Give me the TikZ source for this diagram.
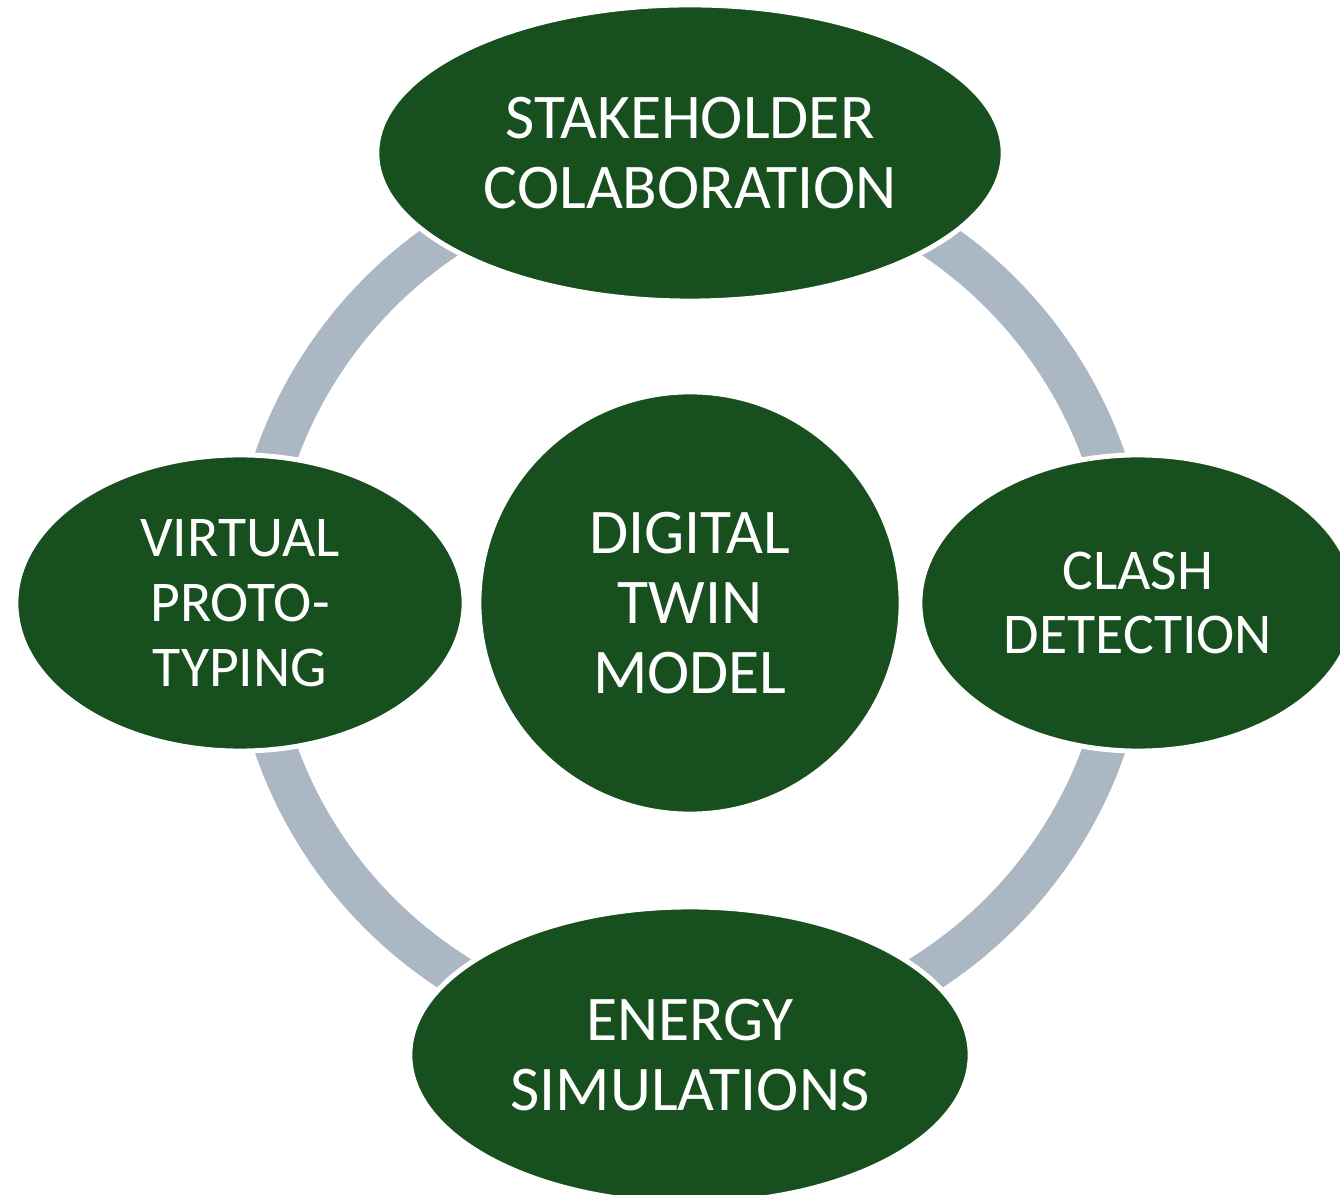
\documentclass[tikz,border=0pt]{standalone}
\usepackage{fontspec}
\setmainfont{Carlito}
\usetikzlibrary{shapes.geometric}
\definecolor{twingreen}{RGB}{23,80,30}
\definecolor{ringgray}{RGB}{172,183,196}
\tikzset{
  blob/.style={ellipse, fill=twingreen, draw=white, line width=0.05cm, inner sep=0pt,
    text=white, align=center, font=\fontsize{18.1}{19.8}\selectfont},
  smallblob/.style={blob, font=\fontsize{16.4}{18.4}\selectfont},
}
\begin{document}
\begin{tikzpicture}[x=0.01cm,y=-0.01cm]
                \useasboundingbox (0,0) rectangle (1340,1195);
                \clip (0,0) rectangle (1340,1195);
                \coordinate (hub) at (690,603);
                \draw[ringgray,line width=0.42cm] (hub) circle (439);
                \node[blob,circle,minimum size=4.22cm] (twin) at (hub) {DIGITAL\\TWIN\\MODEL};
                \node[blob,minimum width=6.26cm,minimum height=2.96cm] (stake) at (690,153) {STAKEHOLDER\\COLABORATION};
                \node[smallblob,minimum width=4.48cm,minimum height=2.96cm] (virtual) at (240,603) {VIRTUAL\\PROTO-\\TYPING};
                \node[smallblob,minimum width=4.36cm,minimum height=2.96cm] (clash) at (1138,603) {CLASH\\DETECTION};
                \node[blob,minimum width=5.6cm,minimum height=2.96cm] (energy) at (690,1055) {ENERGY\\SIMULATIONS};
            \end{tikzpicture}
\end{document}
